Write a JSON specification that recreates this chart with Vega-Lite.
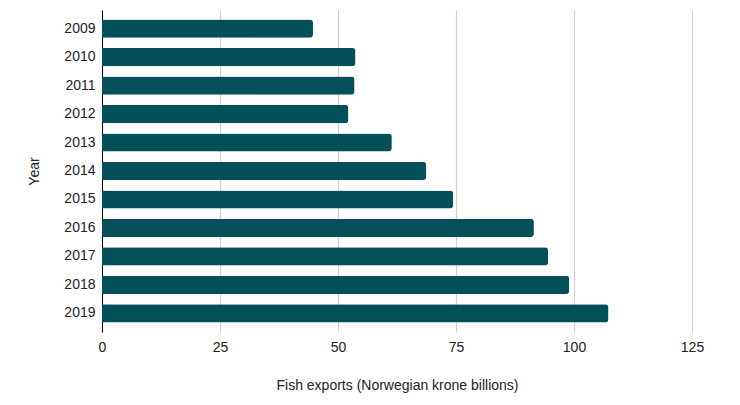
{
  "$schema": "https://vega.github.io/schema/vega-lite/v6.json",
  "width": 590,
  "height": 322,
  "autosize": "none",
  "padding": {"left": 102, "top": 10, "right": 48, "bottom": 73},
  "data": {
    "values": [
      {"Year": "2009", "Exports": 44.7},
      {"Year": "2010", "Exports": 53.7},
      {"Year": "2011", "Exports": 53.5},
      {"Year": "2012", "Exports": 52.2},
      {"Year": "2013", "Exports": 61.4},
      {"Year": "2014", "Exports": 68.7},
      {"Year": "2015", "Exports": 74.4},
      {"Year": "2016", "Exports": 91.5},
      {"Year": "2017", "Exports": 94.5},
      {"Year": "2018", "Exports": 99.0},
      {"Year": "2019", "Exports": 107.3}
    ]
  },
  "mark": {"type": "bar", "color": "#03505b", "cornerRadiusEnd": 3},
  "encoding": {
    "y": {
      "field": "Year",
      "type": "nominal",
      "scale": {"paddingInner": 0.36, "paddingOuter": 0.33},
      "axis": {
        "title": "Year",
        "ticks": false,
        "grid": false,
        "domainColor": "#000000",
        "labelPadding": 7,
        "titlePadding": 22
      }
    },
    "x": {
      "field": "Exports",
      "type": "quantitative",
      "scale": {"domain": [0, 125], "nice": false},
      "axis": {
        "title": "Fish exports (Norwegian krone billions)",
        "values": [0, 25, 50, 75, 100, 125],
        "ticks": false,
        "domain": false,
        "labelFlush": false,
        "gridColor": "#d0d0d0",
        "gridWidth": 1.2,
        "labelPadding": 8,
        "titlePadding": 24
      }
    }
  },
  "config": {
    "font": "Liberation Sans",
    "view": {"stroke": null},
    "axis": {
      "labelFont": "Liberation Sans",
      "titleFont": "Liberation Sans",
      "labelFontSize": 14,
      "titleFontSize": 14,
      "titleFontWeight": "normal",
      "labelColor": "#222222",
      "titleColor": "#222222"
    }
  }
}
